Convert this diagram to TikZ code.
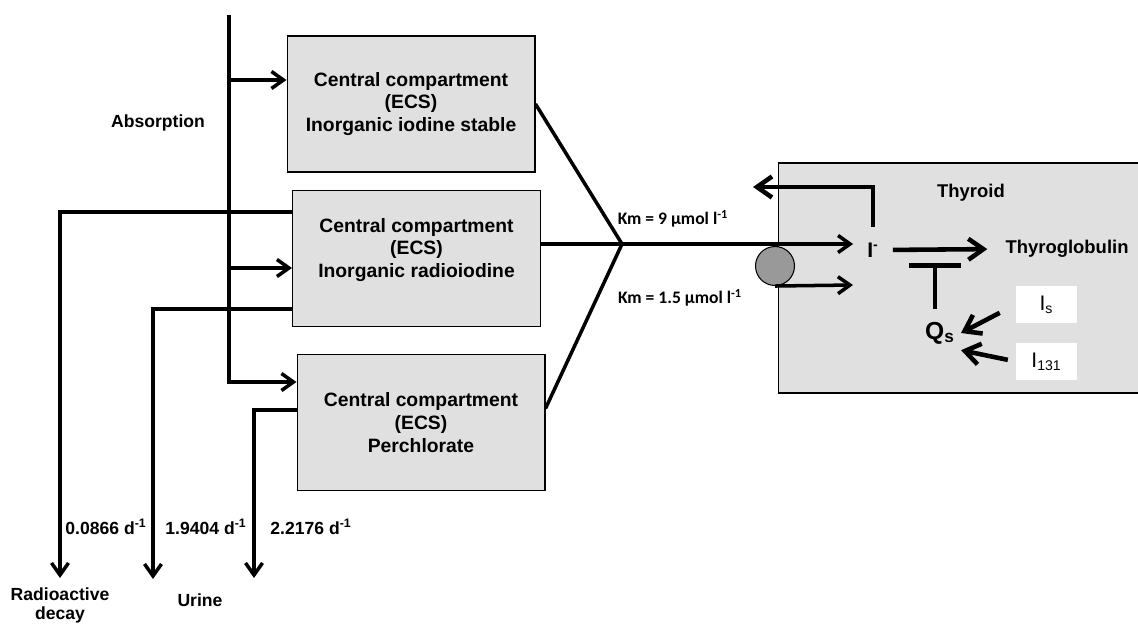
\documentclass[tikz,border=0pt]{standalone}
\usepackage{fontspec}
\setmainfont{Liberation Sans}
\newfontfamily\kmfont{Carlito}
\usetikzlibrary{arrows.meta,positioning}

\begin{document}
\begin{tikzpicture}[
    x=0.02cm, y=-0.02cm,
    box/.style={rectangle, draw, line width=0.6pt, fill=black!12, minimum width=4.96cm, minimum height=2.72cm, align=center, font=\fontsize{11}{13}\selectfont\bfseries},
    boxtext/.style={align=center, font=\fontsize{11}{13}\selectfont\bfseries},
    thybox/.style={rectangle, draw, line width=0.6pt, fill=black!12, minimum width=7.24cm, minimum height=4.6cm},
    pump/.style={circle, draw, line width=0.6pt, fill=black!40, minimum size=0.78cm},
    isobox/.style={rectangle, fill=white, minimum width=1.22cm, minimum height=0.76cm, font=\fontsize{12}{14}\selectfont},
    lbl/.style={align=center, font=\fontsize{10}{10.8}\selectfont\bfseries},
    kmlbl/.style={font=\fontsize{10}{11}\selectfont\kmfont\bfseries},
    thylbl/.style={font=\fontsize{10.5}{12}\selectfont\bfseries},
    flow/.style={line width=2pt},
    arrow/.style={flow, -{Straight Barb[length=0.24cm, width=0.34cm]}},
    bigarrow/.style={line width=2.6pt, -{Straight Barb[length=0.3cm, width=0.42cm]}},
    inhib/.style={line width=2.6pt, -{Bar[width=1.04cm]}}
]
\useasboundingbox (0,0) rectangle (1138,624);

% Compartments
\node[box] (stable) at (411,104) {Central compartment\\(ECS)\\Inorganic iodine stable};
\node[box, label={[boxtext, name=radiotxt, yshift=0.17cm]center:{Central compartment\\(ECS)\\Inorganic radioiodine}}] (radio) at (416.5,258.5) {};
\node[box] (perchl) at (421,422.5) {Central compartment\\(ECS)\\Perchlorate};

% Absorption
\coordinate (top) at (229,15);
\coordinate (in1) at (229,80);
\coordinate (in2) at (229,268);
\coordinate (in3) at (229,382);
\node[lbl] (absorb) at (158,123) {Absorption};
\draw[arrow] (top) |- (perchl.west |- in3);
\draw[arrow] (in1) -- (in1 -| stable.west);
\draw[arrow] (in2) -- (in2 -| radio.west);

% Elimination
\coordinate (dec) at (60,578);
\coordinate (ur1) at (153,579);
\coordinate (ur2) at (254,578);
\draw[arrow] (radio.west |- 0,212) -| (dec);
\draw[arrow] (radio.west |- 0,309) -| (ur1);
\draw[arrow] (perchl.west |- 0,410) -| (ur2);
\node[lbl] (rdecay) at (106,527) {0.0866 d\textsuperscript{-1}};
\node[lbl] (rurine1) at (206,527) {1.9404 d\textsuperscript{-1}};
\node[lbl] (rurine2) at (311,527) {2.2176 d\textsuperscript{-1}};
\node[lbl] (decay) at (60,605) {Radioactive\\decay};
\node[lbl] (urine) at (200,600) {Urine};

% Thyroid
\node[thybox] (thyroid) at (959,278) {};
\node[pump] (pump) at (775,266) {};
\node[thylbl] (thylabel) at (971,193) {Thyroid};
\node[font=\fontsize{12}{14}\selectfont\bfseries] (iodide) at (873,250) {I\textsuperscript{-}};
\node[thylbl] (tg) at (1067,249) {Thyroglobulin};
\node[font=\fontsize{14}{16}\selectfont\bfseries] (qs) at (940,333) {Q\textsubscript{s}};
\node[isobox] (is) at (1046.5,304.5) {I\textsubscript{s}};
\node[isobox] (i131) at (1046.5,361.5) {I\textsubscript{131}};

% Uptake
\coordinate (km) at (622,244);
\coordinate (uptake) at (853,285);
\coordinate (efflux) at (753,187);
\coordinate (tbar) at (935,263);
\draw[flow] (stable.east) -- (km);
\draw[flow] ([yshift=0.28cm]perchl.east) -- (km);
\draw[arrow, shorten >=0.16cm] (radio.east |- km) -- (km) -- (km -| iodide.west);
\draw[arrow] (pump.south) -- (uptake);
\node[kmlbl] (km9) at (673,219) {Km = 9 µmol l\textsuperscript{-1}};
\node[kmlbl] (km15) at (680,298) {Km = 1.5 µmol l\textsuperscript{-1}};

% Inside thyroid
\draw[bigarrow, shorten <=0.2cm] (iodide.north) |- (efflux);
\draw[bigarrow, shorten <=0.16cm, shorten >=0.24cm] (iodide.east) -- (tg.west);
\draw[inhib, shorten <=0.14cm] (qs.north -| tbar) -- (tbar);
\draw[bigarrow, shorten <=0.36cm] (is.west) -- (qs.east);
\draw[bigarrow, shorten <=0.16cm] (i131.west) -- (qs.south east);

\end{tikzpicture}
\end{document}
